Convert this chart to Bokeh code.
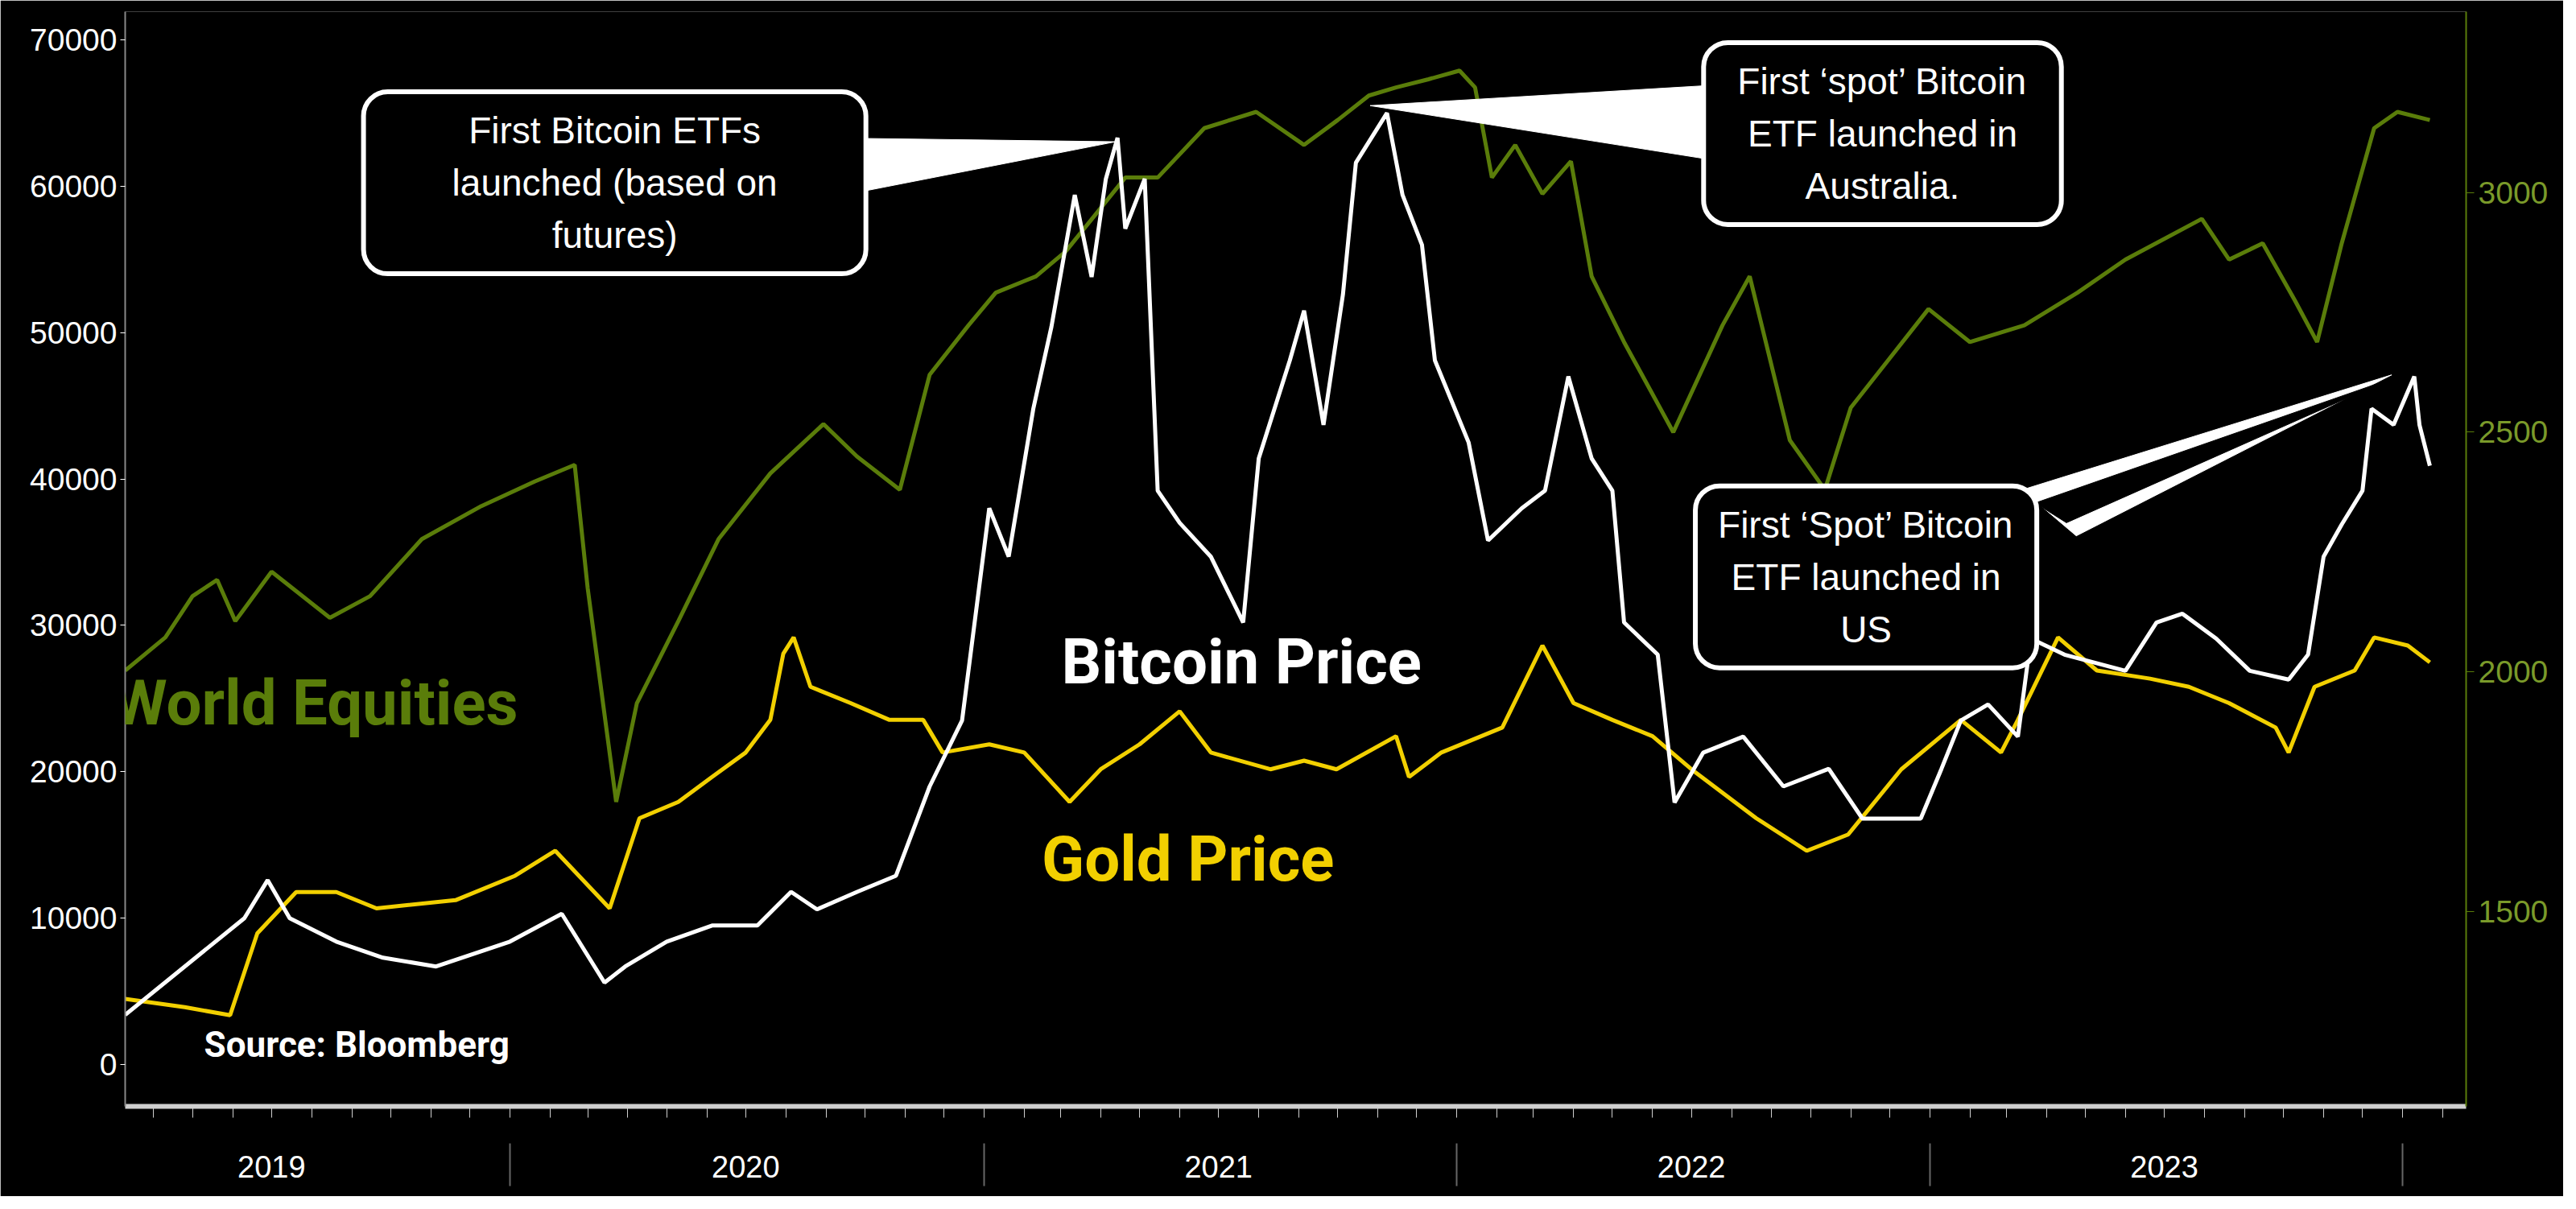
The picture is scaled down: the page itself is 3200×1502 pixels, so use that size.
import pandas as pd
from bokeh.plotting import figure
from bokeh.models import Range1d, LinearAxis, FixedTicker, Label, DatetimeAxis
from bokeh.embed import file_html
from bokeh.resources import INLINE

btc_dates = ["2019-03-10","2019-06-10","2019-06-28","2019-07-15","2019-08-20","2019-09-25","2019-11-05","2020-01-01","2020-02-10","2020-03-14","2020-03-30","2020-05-01","2020-06-05","2020-07-10","2020-08-05","2020-08-25","2020-09-25","2020-10-25","2020-11-20","2020-12-15","2021-01-05","2021-01-20","2021-02-08","2021-02-22","2021-03-12","2021-03-25","2021-04-05","2021-04-14","2021-04-20","2021-05-05","2021-05-15","2021-06-01","2021-06-25","2021-07-20","2021-08-01","2021-08-25","2021-09-05","2021-09-20","2021-10-05","2021-10-15","2021-11-08","2021-11-20","2021-12-05","2021-12-15","2022-01-10","2022-01-25","2022-02-20","2022-03-10","2022-03-28","2022-04-15","2022-05-01","2022-05-10","2022-06-05","2022-06-18","2022-07-10","2022-08-10","2022-09-10","2022-10-15","2022-11-10","2022-12-25","2023-01-10","2023-01-25","2023-02-15","2023-03-10","2023-03-20","2023-04-15","2023-06-01","2023-06-25","2023-07-15","2023-08-10","2023-09-05","2023-10-05","2023-10-20","2023-11-01","2023-11-15","2023-12-01","2023-12-08","2023-12-25","2024-01-10","2024-01-14","2024-01-22"]
btc_vals = [3400,10000,12600,10000,8400,7300,6700,8400,10300,5600,6700,8400,9500,9500,11800,10600,11800,12900,19000,23500,38000,34700,44800,50400,59400,53800,60500,63300,57100,60500,39200,37000,34700,30200,41400,48100,51500,43700,52600,61600,65000,59400,56000,48100,42500,35800,38000,39200,47000,41400,39200,30200,28000,17900,21300,22400,19000,20200,16800,16800,20200,23500,24600,22400,29100,28000,26900,30200,30800,29100,26900,26300,28000,34700,36900,39200,44800,43700,47000,43700,40900]

gold_dates = ["2019-03-10","2019-04-25","2019-05-30","2019-06-20","2019-07-20","2019-08-20","2019-09-20","2019-11-20","2020-01-05","2020-02-05","2020-03-18","2020-04-10","2020-05-10","2020-06-05","2020-07-01","2020-07-20","2020-07-30","2020-08-07","2020-08-20","2020-09-20","2020-10-20","2020-11-15","2020-11-30","2021-01-05","2021-02-01","2021-03-08","2021-04-01","2021-05-01","2021-06-01","2021-06-25","2021-08-10","2021-09-05","2021-09-30","2021-11-15","2021-11-25","2021-12-20","2022-02-05","2022-03-08","2022-04-01","2022-05-01","2022-06-01","2022-07-01","2022-08-20","2022-09-28","2022-10-30","2022-12-10","2023-01-25","2023-02-25","2023-03-10","2023-04-10","2023-05-10","2023-06-20","2023-07-20","2023-08-20","2023-09-25","2023-10-05","2023-10-25","2023-11-25","2023-12-10","2024-01-05","2024-01-22"]
gold_vals = [1318,1301,1284,1455,1541,1541,1507,1524,1575,1627,1507,1695,1729,1781,1832,1900,2038,2072,1969,1935,1900,1900,1832,1849,1832,1729,1797,1849,1918,1832,1797,1815,1797,1866,1781,1832,1884,2055,1935,1900,1866,1797,1695,1627,1661,1797,1900,1832,1900,2072,2003,1986,1969,1935,1884,1832,1969,2003,2072,2055,2020]

eq_dates = ["2019-03-10","2019-04-10","2019-05-01","2019-05-20","2019-06-03","2019-07-01","2019-08-15","2019-09-15","2019-10-25","2019-12-10","2020-01-20","2020-02-20","2020-03-01","2020-03-23","2020-04-08","2020-05-10","2020-06-10","2020-07-20","2020-08-30","2020-09-25","2020-10-28","2020-11-20","2020-12-20","2021-01-10","2021-02-10","2021-03-05","2021-04-20","2021-05-15","2021-06-20","2021-07-30","2021-09-05","2021-10-01","2021-10-25","2021-11-15","2021-12-10","2022-01-03","2022-01-15","2022-01-28","2022-02-15","2022-03-08","2022-03-30","2022-04-15","2022-05-10","2022-06-17","2022-07-25","2022-08-15","2022-09-15","2022-10-12","2022-11-01","2022-12-01","2022-12-31","2023-02-01","2023-03-15","2023-04-25","2023-06-01","2023-07-30","2023-08-20","2023-09-15","2023-10-10","2023-10-27","2023-11-15","2023-12-10","2023-12-28","2024-01-22"]
eq_vals = [2003,2072,2158,2192,2106,2209,2113,2158,2277,2346,2397,2432,2175,1729,1935,2106,2277,2414,2517,2449,2380,2620,2723,2791,2825,2877,3031,3031,3134,3168,3099,3151,3202,3219,3236,3254,3219,3031,3099,2997,3065,2825,2688,2500,2723,2825,2483,2380,2551,2654,2757,2688,2723,2791,2860,2945,2860,2894,2774,2688,2894,3134,3168,3151]

year_labels = ["2019","2020","2021","2022","2023"]
left_ticks = [0,10000,20000,30000,40000,50000,60000,70000]
right_ticks = [1500,2000,2500,3000]

def ms(d):
    return pd.Timestamp(d).value / 1e6

x0, x1 = ms("2019-03-10"), ms("2024-02-19")
Y0, Y1 = -2855, 71920

W, H = 3184, 1486
BL, BR, BT, BB = 155, 121, 14, 112
fw, fh = W - BL - BR, H - BT - BB

def px(dx):  # reference pixel (display scale /2.04) -> x data, for annotations
    rx = dx * 2.04 - 8 - BL
    return x0 + (x1 - x0) * rx / fw
def py(dy):
    ry = dy * 2.04 - 8 - BT
    return Y1 - (Y1 - Y0) * ry / fh

p = figure(width=W, height=H, x_axis_type="datetime", output_backend="svg", toolbar_location=None,
           x_range=Range1d(x0, x1), y_range=Range1d(Y0, Y1),
           min_border_left=BL, min_border_right=BR, min_border_top=BT, min_border_bottom=BB)
p.extra_y_ranges = {"r": Range1d(1094, 3377)}
p.background_fill_color = "black"
p.border_fill_color = "black"
p.outline_line_color = None
p.grid.visible = False

xa = p.xaxis[0]
months = [ms(pd.Timestamp("2019-04-01") + pd.DateOffset(months=i)) for i in range(59)]
xa.ticker = FixedTicker(ticks=months, minor_ticks=[])
xa.major_label_text_font_size = "1px"
xa.major_label_text_color = None
xa.major_label_standoff = 0
xa.axis_line_color = "#cfcfcf"
xa.axis_line_width = 6
xa.major_tick_line_color = "#cfcfcf"
xa.major_tick_out = 14
xa.major_tick_in = 0
xa.minor_tick_line_color = None

mids = [ms(f"{y}-07-01") for y in range(2019, 2024)]
jans = [ms(f"{y}-01-01") for y in range(2020, 2025)]
xa2 = DatetimeAxis(ticker=FixedTicker(ticks=mids, minor_ticks=jans))
xa2.major_label_overrides = {m: l for m, l in zip(mids, year_labels)}
xa2.axis_line_color = None
xa2.major_tick_line_color = None
xa2.major_tick_out = 0
xa2.major_tick_in = 0
xa2.minor_tick_line_color = "#666666"
xa2.minor_tick_line_width = 2
xa2.minor_tick_out = 85
xa2.minor_tick_in = -32
xa2.major_label_standoff = -38
xa2.major_label_text_color = "white"
xa2.major_label_text_font = "Liberation Sans"
xa2.major_label_text_font_size = "38px"
p.add_layout(xa2, "below")

ya = p.yaxis[0]
ya.ticker = FixedTicker(ticks=left_ticks)
ya.axis_line_color = "#888888"
ya.axis_line_width = 2
ya.major_tick_line_color = "white"
ya.major_tick_out = 6
ya.major_tick_in = 0
ya.minor_tick_line_color = None
ya.major_label_text_color = "white"
ya.major_label_text_font = "Liberation Sans"
ya.major_label_text_font_size = "39px"
ya.major_label_standoff = 4

ra = LinearAxis(y_range_name="r", ticker=FixedTicker(ticks=right_ticks))
ra.axis_line_color = "#5a7d0a"
ra.axis_line_width = 2
ra.major_tick_line_color = "#5a7d0a"
ra.major_tick_out = 10
ra.major_tick_in = 0
ra.minor_tick_line_color = None
ra.major_label_text_color = "#7a9a2a"
ra.major_label_text_font = "Liberation Sans"
ra.major_label_text_font_size = "39px"
p.add_layout(ra, "right")

p.line([ms(d) for d in eq_dates], eq_vals, y_range_name="r", color="#5a7d0a", line_width=5)
p.line([ms(d) for d in gold_dates], gold_vals, y_range_name="r", color="#f2d000", line_width=5)
p.line([ms(d) for d in btc_dates], btc_vals, color="white", line_width=5)

# callout pointers
p.patch([px(530), px(683), px(530)], [py(88), py(90), py(120)], color="white")
p.patch([px(1040), px(838), px(1040)], [py(56), py(68), py(100)], color="white")
p.patch([px(1235), px(1460), px(1268)], [py(302), py(232), py(330)], color="white")
p.patch([px(1243), px(1458), px(1262)], [py(310), py(235), py(322)], color="black")

def callout(cx, cy, text, pad):
    p.add_layout(Label(x=px(cx), y=py(cy), text=text, text_align="center", text_baseline="middle",
                       text_color="white", text_font="Liberation Sans", text_font_size="46px",
                       text_line_height=1.25,
                       background_fill_color="black", border_line_color="white", border_line_width=6,
                       border_radius=30, padding=pad))

callout(378, 115, "First Bitcoin ETFs\nlaunched (based on\nfutures)", (110, 22))
callout(1150, 85, "First \u2018spot\u2019 Bitcoin\nETF launched in\nAustralia.", (42, 22))
callout(1140, 355, "First \u2018Spot\u2019 Bitcoin\nETF launched in\nUS", (28, 22))

def big(xd, yd, text, color, size):
    p.add_layout(Label(x=px(xd), y=py(yd), text=text, text_color=color, text_font="Roboto",
                       text_font_style="bold", text_font_size=size, text_baseline="middle"))

big(72, 432, "World Equities", "#5a7d0a", "78px")
big(650, 407, "Bitcoin Price", "white", "78px")
big(638, 527, "Gold Price", "#f2d000", "78px")
big(128, 640, "Source: Bloomberg", "white", "44px")

open("out.html", "w").write(file_html(p, INLINE))
